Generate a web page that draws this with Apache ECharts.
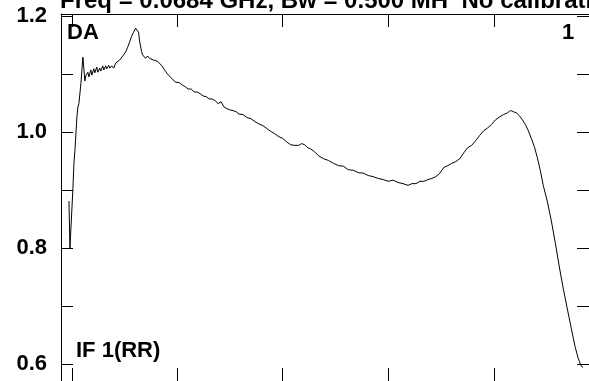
<!DOCTYPE html>
<html>
<head>
<meta charset="utf-8">
<title>DA IF 1(RR)</title>
<script src="https://cdn.jsdelivr.net/npm/echarts@6/dist/echarts.min.js"></script>
<style>
  html, body { margin: 0; padding: 0; background: #fff; }
  #main { width: 589px; height: 381px; }
</style>
</head>
<body>
<div id="main"></div>
<script>
// channel numbers and amplitudes
const channels = [
  -3, -2, 1, 2, 3, 5, 6, 7, 8, 9, 11, 12, 13, 14, 16, 17, 19, 20, 22, 23,
  25, 26, 28, 29, 31, 32, 34, 35, 37, 38, 40, 42, 44, 46, 48, 50, 52, 54, 56, 58,
  60, 62, 64, 65, 67, 68, 70, 71, 73, 74, 76, 78, 80, 82, 84, 86, 88, 90, 92, 94,
  96, 98, 100, 102, 104, 106, 108, 111, 114, 117, 120, 123, 126, 129, 132, 135, 138, 141, 144, 147,
  150, 153, 156, 159, 162, 165, 168, 172, 176, 180, 184, 188, 192, 196, 200, 204, 208, 212, 216, 220,
  224, 228, 231, 234, 237, 240, 244, 248, 253, 258, 263, 268, 273, 278, 283, 288, 293, 298, 303, 308,
  313, 318, 323, 328, 333, 338, 342, 346, 350, 354, 358, 362, 366, 370, 374, 378, 382, 386, 390, 394,
  398, 402, 406, 410, 414, 418, 422, 426, 430, 434, 438, 441, 444, 447, 450, 453, 456, 459, 462, 465,
  468, 471, 474, 478, 482, 486, 490, 494, 498, 502, 506, 509, 512, 514
];
const amplitude = [
  0.881, 0.800, 0.903, 0.946, 0.968, 1.026, 1.043, 1.049, 1.052, 1.083, 1.129, 1.109, 1.088, 1.097, 1.103, 1.095, 1.107, 1.098, 1.109, 1.102,
  1.112, 1.103, 1.110, 1.105, 1.114, 1.107, 1.114, 1.109, 1.115, 1.110, 1.114, 1.110, 1.119, 1.117, 1.124, 1.122, 1.133, 1.138, 1.146, 1.155,
  1.165, 1.172, 1.179, 1.182, 1.172, 1.157, 1.139, 1.133, 1.136, 1.127, 1.131, 1.127, 1.129, 1.124, 1.126, 1.122, 1.119, 1.115, 1.112, 1.105,
  1.100, 1.097, 1.093, 1.091, 1.086, 1.088, 1.085, 1.081, 1.078, 1.074, 1.074, 1.069, 1.069, 1.066, 1.062, 1.061, 1.057, 1.057, 1.054, 1.049,
  1.052, 1.043, 1.040, 1.038, 1.037, 1.035, 1.031, 1.030, 1.025, 1.023, 1.018, 1.014, 1.011, 1.006, 1.001, 0.997, 0.992, 0.989, 0.983, 0.978,
  0.977, 0.977, 0.980, 0.978, 0.973, 0.971, 0.966, 0.959, 0.954, 0.951, 0.946, 0.942, 0.941, 0.935, 0.934, 0.930, 0.929, 0.925, 0.923, 0.920,
  0.918, 0.915, 0.917, 0.913, 0.911, 0.908, 0.911, 0.911, 0.915, 0.915, 0.918, 0.920, 0.923, 0.929, 0.939, 0.942, 0.946, 0.949, 0.954, 0.964,
  0.973, 0.977, 0.985, 0.994, 1.002, 1.007, 1.013, 1.021, 1.026, 1.030, 1.033, 1.037, 1.035, 1.033, 1.028, 1.021, 1.013, 1.002, 0.989, 0.975,
  0.956, 0.934, 0.908, 0.881, 0.848, 0.810, 0.769, 0.731, 0.697, 0.663, 0.630, 0.611, 0.597, 0.594
];
const xTicks = [0, 106, 212, 318, 425];
const yTicks = [0.6, 0.7, 0.8, 0.9, 1.0, 1.1, 1.2];
const yLabels = [0.6, 0.8, 1.0, 1.2];

const font = '"Liberation Sans", Arial, sans-serif';

const points = channels.map((c, i) => [c, amplitude[i]]);

const frameLine = { show: true, onZero: false, lineStyle: { color: '#000', width: 1 } };

function xAxisOf(position) {
  return {
    type: 'value', position: position, min: -11, max: 520,
    axisLine: frameLine,
    axisTick: { show: true, inside: true, length: 13, customValues: xTicks, lineStyle: { color: '#000' } },
    axisLabel: { show: false },
    splitLine: { show: false }
  };
}

function yAxisOf(position, showLabels) {
  return {
    type: 'value', position: position, min: 0.5708, max: 1.2034,
    axisLine: frameLine,
    axisTick: { show: true, inside: true, length: 12, customValues: yTicks, lineStyle: { color: '#000' } },
    axisLabel: {
      show: showLabels, customValues: yLabels, margin: 14,
      color: '#000', fontFamily: font, fontWeight: 'bold', fontSize: 22,
      formatter: v => v.toFixed(1)
    },
    splitLine: { show: false }
  };
}

var myChart = echarts.init(document.getElementById('main'), null, { renderer: 'canvas' });

myChart.setOption({
  animation: false,
  backgroundColor: '#fff',
  grid: { left: 61, right: -3, top: 14, bottom: -2, containLabel: false },
  xAxis: [xAxisOf('bottom'), xAxisOf('top')],
  yAxis: [yAxisOf('left', true), yAxisOf('right', false)],
  graphic: [
    { type: 'text', left: 60, top: -11, style: { text: 'Freq = 0.0684 GHz, Bw = 0.500 MH  No calibration', font: 'bold 24px ' + font, fill: '#000' } },
    { type: 'text', left: 67, top: 22, style: { text: 'DA', font: 'bold 22px ' + font, fill: '#000' } },
    { type: 'text', left: 562, top: 22, style: { text: '1', font: 'bold 22px ' + font, fill: '#000' } },
    { type: 'text', left: 76, top: 340, style: { text: 'IF 1(RR)', font: 'bold 22px ' + font, fill: '#000' } }
  ],
  series: [{
    type: 'line',
    data: points,
    showSymbol: false,
    lineStyle: { color: '#000', width: 1 },
    clip: true
  }]
});
</script>
</body>
</html>
